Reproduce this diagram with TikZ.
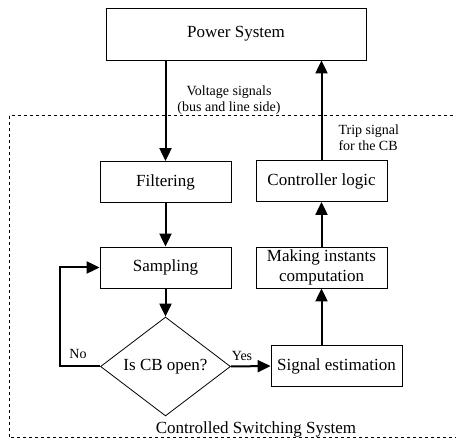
\documentclass[tikz,border=0pt]{standalone}
\usepackage{fontspec}
\setmainfont{Liberation Serif}
\usetikzlibrary{arrows.meta,shapes.geometric}

\tikzset{
  blockbox/.style={draw, line width=0.8pt, minimum width=131pt, minimum height=41pt,
    inner sep=2pt, align=center, font=\fontsize{17}{20}\selectfont},
  flowline/.style={line width=2pt, -{Triangle[length=13pt,width=12pt]}},
  smalltext/.style={font=\fontsize{14}{16}\selectfont}
}

\begin{document}
\begin{tikzpicture}[x=1pt, y=-1pt]
\useasboundingbox (0,0) rectangle (456,443);

% dotted frame of the switching system
\draw[line width=1pt, dash pattern=on 3pt off 3pt] (9,116) rectangle (458,438);
\path (256,429) node (frametitle) [font=\fontsize{17}{20}\selectfont] {Controlled Switching System};

% blocks
\path
(236,34) node (power) [blockbox, minimum width=260pt, minimum height=52pt] {Power System}
(165.5,182) node (filter) [blockbox] {Filtering}
(165.5,267.5) node (sampling) [blockbox] {Sampling}
(165.5,366.5) node (decision) [draw, line width=0.8pt, shape=diamond, inner sep=0pt,
   minimum width=130pt, minimum height=73pt, font=\fontsize{17}{20}\selectfont] {Is CB open?}
(336.5,366) node (estim) [blockbox] {Signal estimation}
(321.5,267.5) node (making) [blockbox] {Making instants\\computation}
(321.5,181) node (ctrl) [blockbox] {Controller logic};

% signal flow
\draw[flowline] (power.south -| filter.north) -- (filter.north);
\draw[flowline] (filter.south) -- (sampling.north);
\draw[flowline] (sampling.south) -- (decision.north);
\draw[flowline] (decision.east) -- (estim.west);
\draw[flowline] (decision.west) -- ++(-40,0) |- (sampling.west);
\draw[flowline] (making.south |- estim.north) -- (making.south);
\draw[flowline] (making.north) -- (ctrl.south);
\draw[flowline] (ctrl.north) -- (ctrl.north |- power.south);

% labels
\path
(229,100) node (voltlabel) [smalltext, align=center] {Voltage signals\\(bus and line side)}
(335,138) node (triplabel) [smalltext, align=left, anchor=west] {Trip signal\\for the CB}
(78,354) node (nolabel) [smalltext] {No}
(242,356) node (yeslabel) [smalltext] {Yes};

\end{tikzpicture}
\end{document}
